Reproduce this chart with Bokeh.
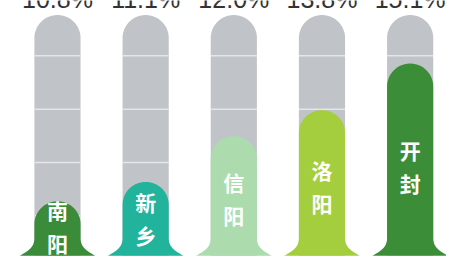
import numpy as np
from bokeh.plotting import figure
from bokeh.models import ColumnDataSource, Range1d
from bokeh.embed import file_html
from bokeh.resources import INLINE
from bokeh.core.properties import value

# ---- data ----
cities = ["南阳", "新乡", "信阳", "洛阳", "开封"]
growth = [10.8, 11.1, 12.0, 13.8, 15.1]
growth_labels = ["10.8%", "11.1%", "12.0%", "13.8%", "15.1%"]
fill_level = [61, 81, 128, 155, 203]      # liquid height as drawn in each tube (tube top = 253)
tube_top = 253
grid_levels = [46, 101, 156, 211]          # white scale marks on the tubes
fill_colors = ["#3a8c3a", "#22b39c", "#acdcae", "#a4ce3e", "#3b8e37"]

# ---- layout ----
W, H = 446, 260
STEP = 89.75                       # reference pixels per category step
x_start = -58 / STEP
p = figure(width=W, height=H, output_backend="svg", toolbar_location=None,
           x_range=Range1d(x_start, x_start + 454 / STEP), y_range=Range1d(0, 268),
           x_axis_type=None, y_axis_type=None, min_border=0)
p.grid.visible = False
p.outline_line_color = None
p.background_fill_color = "white"
p.border_fill_color = "white"

R = 23.5                 # tube radius (reference px)
hw = R / STEP            # half width in x units
base = 5.0
flare_h = 19.0
flare_w = 15.0 / STEP

idx = list(range(len(cities)))
t = np.linspace(np.pi, 0, 40)


def tube_shape(cx, top):
    cy = top - R
    xs = [cx - hw, cx - hw] + list(cx + hw * np.cos(t)) + [cx + hw, cx + hw]
    ys = [base, cy] + list(cy + R * np.sin(t)) + [cy, base]
    return xs, ys


def fill_shape(cx, top):
    cy = top - R
    s = np.linspace(0, 1, 25)
    fw = hw + flare_w * (1 - s) ** 2.6
    fy = base + flare_h * s
    xs = list(cx - fw) + list(cx + hw * np.cos(t)) + list((cx + fw)[::-1])
    ys = list(fy) + list(cy + R * np.sin(t)) + list(fy[::-1])
    return xs, ys


tx, ty, fx, fy = [], [], [], []
for i, lvl in zip(idx, fill_level):
    a, b = tube_shape(i, tube_top)
    tx.append(a); ty.append(b)
    a, b = fill_shape(i, lvl)
    fx.append(a); fy.append(b)

p.patches(tx, ty, fill_color="#c0c4c8", line_color=None)

gx0, gx1, gy = [], [], []
for i in idx:
    for g in grid_levels:
        gx0.append(i - hw); gx1.append(i + hw); gy.append(g)
p.segment(x0=gx0, y0=gy, x1=gx1, y1=gy, line_color="#e4e6e8", line_width=1.5)

p.patches(fx, fy, fill_color=fill_colors, line_color=None)

label_src = ColumnDataSource(dict(
    x=idx,
    y=[0.44 * l + 8 for l in fill_level],
    text=["\n".join(c) for c in cities],
))
p.text(x="x", y="y", text="text", source=label_src, text_align="center",
       text_baseline="middle", text_color="white", text_font_style="bold",
       text_font=value("Noto Sans CJK SC"), text_font_size="21px",
       text_line_height=1.1)

top_src = ColumnDataSource(dict(x=idx, y=[260] * len(idx), text=growth_labels))
p.text(x="x", y="y", text="text", source=top_src, text_align="center",
       text_baseline="middle", y_offset=-9, text_color="#333333",
       text_font=value("Liberation Sans"), text_font_size="25px")

open("out.html", "w").write(file_html(p, INLINE))
